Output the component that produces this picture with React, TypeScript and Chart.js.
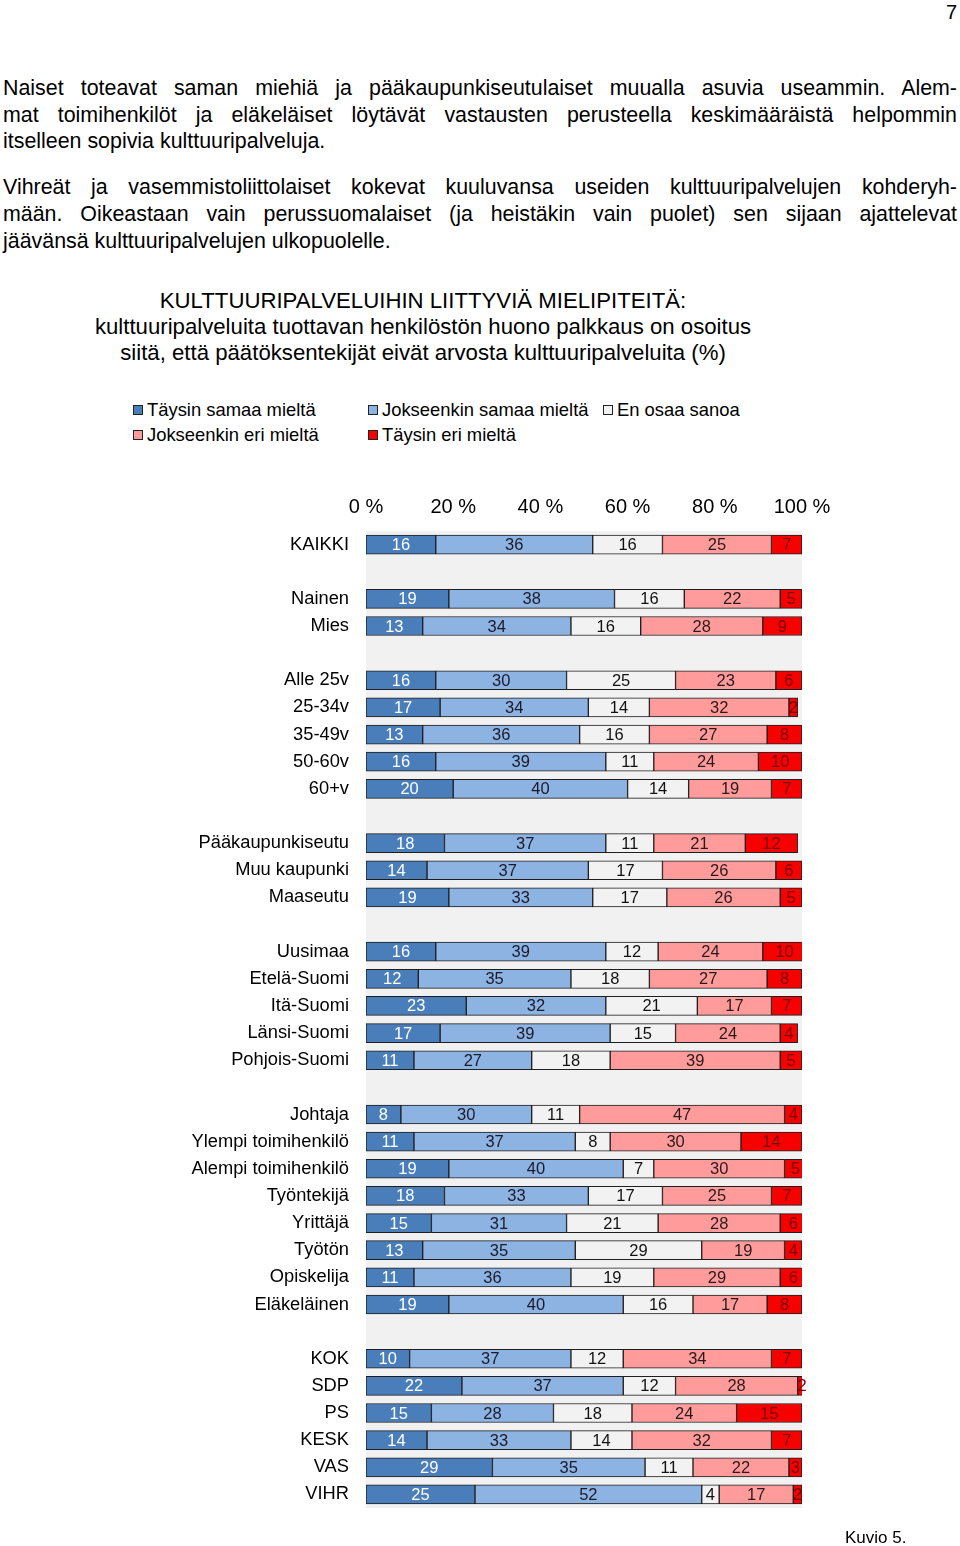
import React, { useEffect, useRef } from 'react';
import { Chart, registerables } from 'chart.js';
Chart.register(...registerables);

const categories = [
  'KAIKKI', '',
  'Nainen', 'Mies', '',
  'Alle 25v', '25-34v', '35-49v', '50-60v', '60+v', '',
  'Pääkaupunkiseutu', 'Muu kaupunki', 'Maaseutu', '',
  'Uusimaa', 'Etelä-Suomi', 'Itä-Suomi', 'Länsi-Suomi', 'Pohjois-Suomi', '',
  'Johtaja', 'Ylempi toimihenkilö', 'Alempi toimihenkilö', 'Työntekijä', 'Yrittäjä', 'Työtön', 'Opiskelija', 'Eläkeläinen', '',
  'KOK', 'SDP', 'PS', 'KESK', 'VAS', 'VIHR',
];

const seriesNames = ['Täysin samaa mieltä', 'Jokseenkin samaa mieltä', 'En osaa sanoa', 'Jokseenkin eri mieltä', 'Täysin eri mieltä'];

const taysinSamaa = [16, null, 19, 13, null, 16, 17, 13, 16, 20, null, 18, 14, 19, null, 16, 12, 23, 17, 11, null, 8, 11, 19, 18, 15, 13, 11, 19, null, 10, 22, 15, 14, 29, 25];
const jokseenkinSamaa = [36, null, 38, 34, null, 30, 34, 36, 39, 40, null, 37, 37, 33, null, 39, 35, 32, 39, 27, null, 30, 37, 40, 33, 31, 35, 36, 40, null, 37, 37, 28, 33, 35, 52];
const enOsaa = [16, null, 16, 16, null, 25, 14, 16, 11, 14, null, 11, 17, 17, null, 12, 18, 21, 15, 18, null, 11, 8, 7, 17, 21, 29, 19, 16, null, 12, 12, 18, 14, 11, 4];
const jokseenkinEri = [25, null, 22, 28, null, 23, 32, 27, 24, 19, null, 21, 26, 26, null, 24, 27, 17, 24, 39, null, 47, 30, 30, 25, 28, 19, 29, 17, null, 34, 28, 24, 32, 22, 17];
const taysinEri = [7, null, 5, 9, null, 6, 2, 8, 10, 7, null, 12, 6, 5, null, 10, 8, 7, 4, 5, null, 4, 14, 5, 7, 6, 4, 6, 8, null, 7, 2, 15, 7, 3, 2];

const xTicks = [0, 20, 40, 60, 80, 100];

const fills = ['#4A7EBB', '#8DB3E2', '#F2F2F2', '#FF9B9B', '#F60000'];
const labelColors = ['#FFFFFF', '#1A1A2A', '#111111', '#2A1A1A', '#7A0000'];

const FONT = '"Liberation Sans", Arial, Helvetica, sans-serif';

const para1 = [
  'Naiset toteavat saman miehiä ja pääkaupunkiseutulaiset muualla asuvia useammin. Alem-',
  'mat toimihenkilöt ja eläkeläiset löytävät vastausten perusteella keskimääräistä helpommin',
  'itselleen sopivia kulttuuripalveluja.',
];
const para2 = [
  'Vihreät ja vasemmistoliittolaiset kokevat kuuluvansa useiden kulttuuripalvelujen kohderyh-',
  'mään. Oikeastaan vain perussuomalaiset (ja heistäkin vain puolet) sen sijaan ajattelevat',
  'jäävänsä kulttuuripalvelujen ulkopuolelle.',
];
const titleLines = [
  'KULTTUURIPALVELUIHIN LIITTYVIÄ MIELIPITEITÄ:',
  'kulttuuripalveluita tuottavan henkilöstön huono palkkaus on osoitus',
  'siitä, että päätöksentekijät eivät arvosta kulttuuripalveluita (%)',
];

const bgPlugin = {
  id: 'plotBg',
  beforeDatasetsDraw(chart: any) {
    const { ctx, chartArea } = chart;
    ctx.save();
    ctx.fillStyle = '#F1F1F1';
    ctx.fillRect(chartArea.left, chartArea.top, chartArea.right - chartArea.left, chartArea.bottom - chartArea.top);
    ctx.restore();
  },
};

const labelPlugin = {
  id: 'segLabels',
  afterDatasetsDraw(chart: any) {
    const { ctx } = chart;
    ctx.save();
    ctx.font = `16.5px ${FONT}`;
    ctx.textAlign = 'center';
    ctx.textBaseline = 'middle';
    chart.data.datasets.forEach((ds: any, di: number) => {
      const meta = chart.getDatasetMeta(di);
      meta.data.forEach((el: any, i: number) => {
        const v = ds.data[i];
        if (v === null || v === undefined) return;
        const cx = (el.x + el.base) / 2;
        ctx.fillStyle = labelColors[di];
        ctx.fillText(String(v), cx, el.y + 1);
      });
    });
    ctx.restore();
  },
};

const CANVAS_TOP = 480;
const CANVAS_H = 1056;

function BarChart() {
  const ref = useRef<HTMLCanvasElement | null>(null);
  useEffect(() => {
    if (!ref.current) return;
    const values = [taysinSamaa, jokseenkinSamaa, enOsaa, jokseenkinEri, taysinEri];
    const chart = new Chart(ref.current, {
      type: 'bar',
      data: {
        labels: categories,
        datasets: values.map((d, i) => ({
          label: seriesNames[i],
          data: d,
          backgroundColor: fills[i],
          borderColor: '#1E1E1E',
          borderWidth: 1,
          borderSkipped: false,
          barThickness: 19,
        })),
      },
      options: {
        indexAxis: 'y',
        responsive: false,
        animation: false,
        layout: { padding: { left: 0, right: 158, top: 0, bottom: 13 } },
        plugins: { legend: { display: false }, tooltip: { enabled: false }, title: { display: false } },
        scales: {
          x: {
            type: 'linear',
            position: 'top',
            stacked: true,
            min: 0,
            max: 100,
            afterBuildTicks: (axis: any) => { axis.ticks = xTicks.map((v) => ({ value: v })); },
            afterFit: (axis: any) => { axis.height = 51; },
            grid: { display: false, drawTicks: false },
            border: { display: false },
            ticks: {
              padding: 12,
              color: '#000',
              font: { family: FONT, size: 20 },
              callback: (v: any) => `${v} %`,
            },
          },
          y: {
            stacked: true,
            afterFit: (axis: any) => { axis.width = 366; },
            grid: { display: false, drawTicks: false },
            border: { display: false },
            ticks: {
              padding: 17,
              color: '#000',
              autoSkip: false,
              font: { family: FONT, size: 18.3 },
            },
          },
        },
      },
      plugins: [bgPlugin, labelPlugin],
    });
    return () => chart.destroy();
  }, []);
  return (
    <canvas
      ref={ref}
      width={960}
      height={CANVAS_H}
      style={{ position: 'absolute', left: 0, top: CANVAS_TOP, width: 960, height: CANVAS_H }}
    />
  );
}

function Line({ text, top, justify }: { text: string; top: number; justify: boolean }) {
  const fs = 21.4;
  return (
    <div
      style={{
        position: 'absolute', left: 3, width: 954, top: top - fs / 2, fontSize: fs, lineHeight: 1,
        fontFamily: FONT, color: '#000', textAlign: justify ? 'justify' : 'left',
        textAlignLast: justify ? 'justify' : 'left', whiteSpace: 'nowrap',
      } as any}
    >
      {justify ? <span style={{ display: 'block', whiteSpace: 'normal', textAlign: 'justify', textAlignLast: 'justify' } as any}>{text}</span> : text}
    </div>
  );
}

function LegendItem({ x, y, color, text }: { x: number; y: number; color: string; text: string }) {
  return (
    <>
      <div style={{ position: 'absolute', left: x, top: y - 5, width: 8, height: 8, background: color, border: '1px solid #222' }} />
      <div style={{ position: 'absolute', left: x + 14, top: y - 9.2, fontSize: 18.4, lineHeight: 1, fontFamily: FONT, color: '#000', whiteSpace: 'nowrap' }}>{text}</div>
    </>
  );
}

export default function App() {
  const p1Tops = [89, 116, 142];
  const p2Tops = [188, 215, 242];
  const tTops = [301, 327, 353];
  return (
    <div style={{ width: 960, height: 1546, background: '#fff' }}>
      <div style={{ position: 'absolute', left: 0, top: 0, width: 960, height: 1546, background: '#fff' }} />
      <div style={{ position: 'absolute', right: 3, top: 2, fontSize: 20, lineHeight: 1, fontFamily: FONT }}>7</div>
      {para1.map((t, i) => <Line key={'a' + i} text={t} top={p1Tops[i]} justify={i < 2} />)}
      {para2.map((t, i) => <Line key={'b' + i} text={t} top={p2Tops[i]} justify={i < 2} />)}
      {titleLines.map((t, i) => (
        <div key={'t' + i} style={{ position: 'absolute', left: 0, width: 846, top: tTops[i] - 11, fontSize: 22.2, lineHeight: 1, fontFamily: FONT, textAlign: 'center', whiteSpace: 'nowrap' }}>{t}</div>
      ))}
      <LegendItem x={133} y={410} color={fills[0]} text={seriesNames[0]} />
      <LegendItem x={368} y={410} color={fills[1]} text={seriesNames[1]} />
      <LegendItem x={603} y={410} color={fills[2]} text={seriesNames[2]} />
      <LegendItem x={133} y={435} color={fills[3]} text={seriesNames[3]} />
      <LegendItem x={368} y={435} color={fills[4]} text={seriesNames[4]} />
      <BarChart />
      <div style={{ position: 'absolute', left: 845, top: 1529, fontSize: 17, lineHeight: 1, fontFamily: FONT }}>Kuvio 5.</div>
    </div>
  );
}
